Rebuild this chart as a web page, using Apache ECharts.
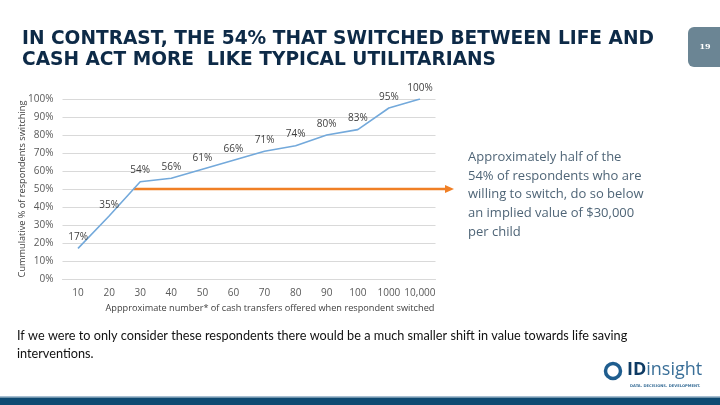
<!DOCTYPE html>
<html><head><meta charset="utf-8">
<script src="https://cdn.jsdelivr.net/npm/echarts@6/dist/echarts.min.js"></script>
<style>html,body{margin:0;padding:0;background:#fff}#c{width:720px;height:405px}</style>
</head><body><div id="c"></div>
<script>
var categories = ['10','20','30','40','50','60','70','80','90','100','1000','10,000'];
var cumulativePct = [17,35,54,56,61,66,71,74,80,83,95,100];
var thresholdPct = 50;
var yTicks = {min:0, max:100, interval:10};

var chart = echarts.init(document.getElementById('c'));
var option = {
  animation:false,
  grid:{left:62.5, right:284.5, top:99, bottom:126},
  xAxis:{type:'category', data:categories,
    axisLine:{lineStyle:{color:'#d9d9d9'}}, axisTick:{show:false},
    axisLabel:{color:'#595959', fontSize:10, fontFamily:'Open Sans', margin:9, interval:0},
    name:'Appproximate number* of cash transfers offered when respondent switched',
    nameLocation:'middle', nameGap:25, nameMoveOverlap:false,
    nameTextStyle:{color:'#404040', fontSize:9.2, fontFamily:'Open Sans', padding:[0,0,0,42]}},
  yAxis:{type:'value', min:yTicks.min, max:yTicks.max, interval:yTicks.interval,
    axisLine:{show:false}, axisTick:{show:false},
    splitLine:{lineStyle:{color:'#d9d9d9'}},
    axisLabel:{formatter:'{value}%', color:'#595959', fontSize:10, fontFamily:'Open Sans', margin:9},
    name:'Cummulative % of respondents switching', nameLocation:'middle', nameGap:36, nameMoveOverlap:false,
    nameTextStyle:{color:'#404040', fontSize:9.2, fontFamily:'Open Sans'}},
  series:[{type:'line', data:cumulativePct, showSymbol:true, symbol:'circle', symbolSize:0.5,
    itemStyle:{color:'#73a9db'},
    lineStyle:{color:'#73a9db', width:1.6},
    labelLayout:{hideOverlap:false},
    label:{show:true, position:'top', distance:6, formatter:'{c}%', color:'#404040', fontSize:10, fontFamily:'Open Sans'}}]
};
chart.setOption(option);

// threshold arrow: starts where the curve crosses 50%, extends past the plot
var idx = 0;
for (var i=1;i<cumulativePct.length;i++){ if (cumulativePct[i]>=thresholdPct){ idx=i; break; } }
var frac = (thresholdPct - cumulativePct[idx-1])/(cumulativePct[idx]-cumulativePct[idx-1]);
var pA = chart.convertToPixel({gridIndex:0},[idx-1, thresholdPct]);
var pB = chart.convertToPixel({gridIndex:0},[idx, thresholdPct]);
var x0 = pA[0] + (pB[0]-pA[0])*frac, yy = pA[1];
var xEnd = 454;

chart.setOption({graphic:[
  {type:'text', left:22, top:29, style:{text:'IN CONTRAST, THE 54% THAT SWITCHED BETWEEN LIFE AND\nCASH ACT MORE  LIKE TYPICAL UTILITARIANS',
    fill:'#0d2a47', font:'bold 18.6px "DejaVu Sans"', lineHeight:20.5}},
  {type:'rect', shape:{x:688, y:27, width:40, height:40, r:6}, style:{fill:'#6b8594'}},
  {type:'text', x:705, y:47, style:{text:'19', fill:'#ffffff', font:'bold 8px "DejaVu Serif"', align:'center', verticalAlign:'middle'}},
  {type:'line', shape:{x1:x0, y1:yy, x2:xEnd-7, y2:yy}, style:{stroke:'#f07f25', lineWidth:2.5}},
  {type:'polygon', shape:{points:[[xEnd,yy],[xEnd-9,yy-4],[xEnd-9,yy+4]]}, style:{fill:'#f07f25'}},
  {type:'text', left:468, top:148, style:{text:'Approximately half of the\n54% of respondents who are\nwilling to switch, do so below\nan implied value of $30,000\nper child',
    fill:'#4f6577', font:'13px "Open Sans"', lineHeight:18.7}},
  {type:'text', left:17, top:327, style:{text:'If we were to only consider these respondents there would be a much smaller shift in value towards life saving\ninterventions.',
    fill:'#111111', font:'12.7px Lato', lineHeight:18}},
  {type:'circle', shape:{cx:613, cy:371, r:7.5}, style:{fill:'none', stroke:'#1f5d8e', lineWidth:3.5}},
  {type:'text', left:627, top:361, style:{text:'{a|ID}{b|insight}', rich:{a:{font:'bold 18px "Open Sans"', fill:'#0d3a63'}, b:{font:'18px "Open Sans"', fill:'#3a6f98'}}}},
  {type:'text', left:630, top:384, style:{text:'DATA. DECISIONS. DEVELOPMENT.', fill:'#3a6f98', font:'bold 3.7px "DejaVu Sans"'}},
  {type:'rect', shape:{x:0, y:396, width:720, height:1.5}, style:{fill:'#a7bfd2'}},
  {type:'rect', shape:{x:0, y:397.5, width:720, height:8}, style:{fill:'#0e4a72'}}
]});
</script></body></html>
